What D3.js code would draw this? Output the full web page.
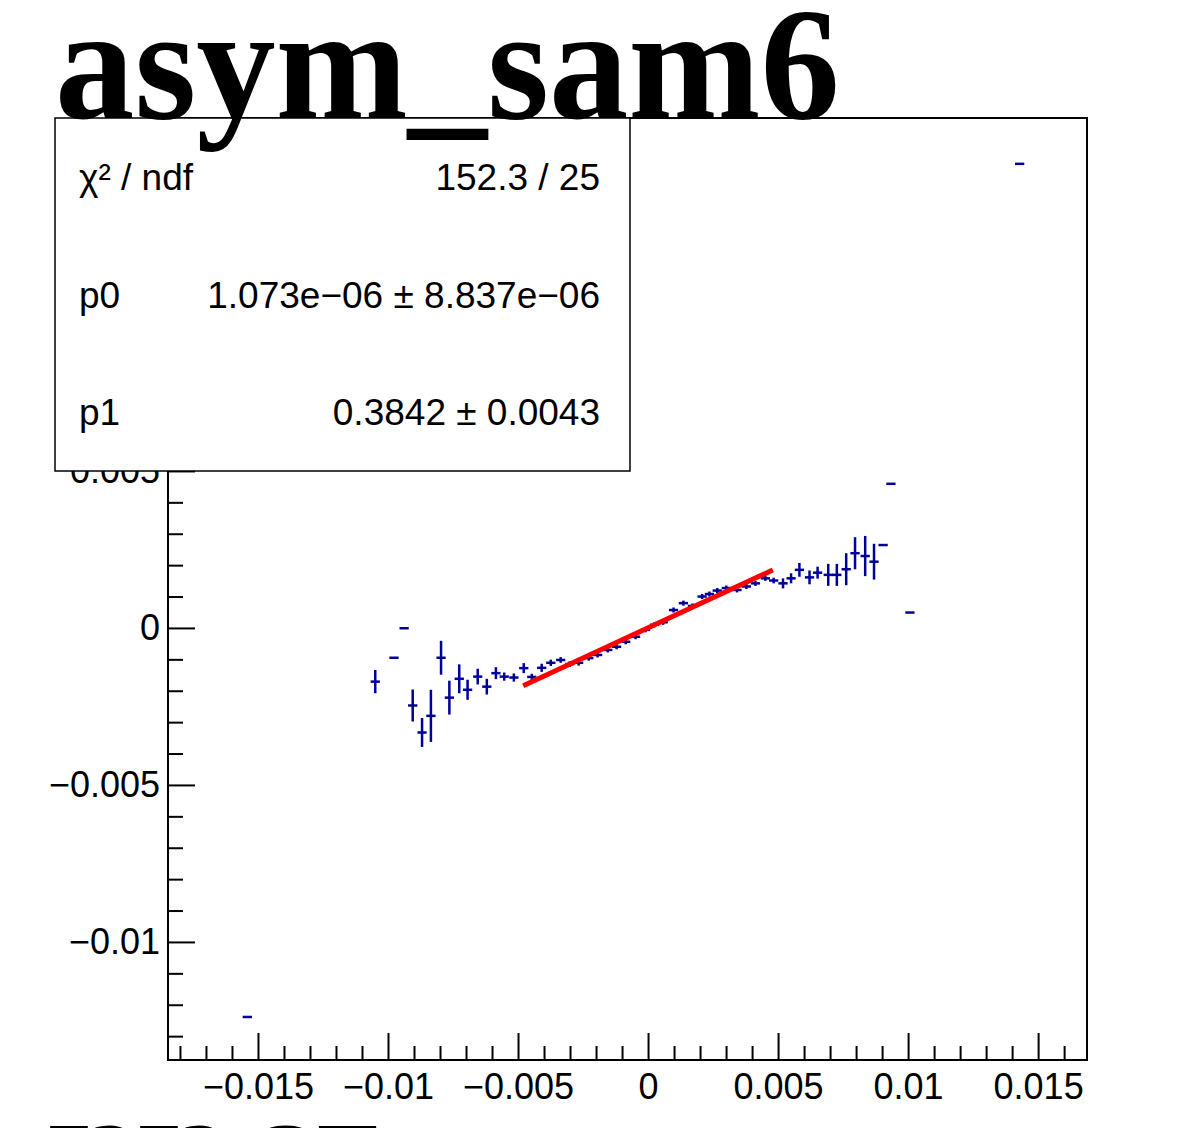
<!DOCTYPE html>
<html>
<head>
<meta charset="utf-8">
<script src="https://cdn.jsdelivr.net/npm/d3@7/dist/d3.min.js"></script>
<style>
  html, body { margin: 0; padding: 0; background: #ffffff; overflow: hidden; }
  svg { display: block; }
</style>
</head>
<body>
<svg id="chart" width="1199" height="1128"></svg>
<script>
// ---------------- data ----------------
const title = "asym_sam6";
const bottomText = "7373 GT";

// bin centres (x) of the profile points
const xValues = [
  -0.01541, -0.01049, -0.00977, -0.00938, -0.00905, -0.00869, -0.00835, -0.00796,
  -0.00764, -0.00726, -0.00694, -0.00655, -0.00620, -0.00585, -0.00553, -0.00516,
  -0.00478, -0.00447, -0.00409, -0.00374, -0.00336, -0.00301, -0.00267, -0.00228,
  -0.00194, -0.00155, -0.00121, -0.00086, -0.00048, -0.00010, 0.00025, 0.00058,
  0.00098, 0.00136, 0.00171, 0.00208, 0.00236, 0.00266, 0.00301, 0.00342,
  0.00378, 0.00413, 0.00451, 0.00483, 0.00519, 0.00550, 0.00582, 0.00621,
  0.00652, 0.00693, 0.00726, 0.00762, 0.00796, 0.00835, 0.00869, 0.00904,
  0.00934, 0.01007, 0.01429
];
// profile means (y)
const yValues = [
  -0.01239, -0.00171, -0.00095, -0.00001, -0.00247, -0.00333, -0.00280, -0.00095,
  -0.00222, -0.00162, -0.00197, -0.00155, -0.00187, -0.00144, -0.00155, -0.00158,
  -0.00128, -0.00156, -0.00127, -0.00111, -0.00102, -0.00115, -0.00111, -0.00096,
  -0.00086, -0.00070, -0.00060, -0.00044, -0.00028, -0.00006, 0.00010, 0.00018,
  0.00057, 0.00079, 0.00070, 0.00100, 0.00108, 0.00119, 0.00127, 0.00121,
  0.00132, 0.00142, 0.00158, 0.00151, 0.00142, 0.00158, 0.00185, 0.00161,
  0.00176, 0.00169, 0.00169, 0.00187, 0.00238, 0.00229, 0.00211, 0.00264,
  0.00459, 0.00049, 0.01478
];
// errors on the means
const yErrors = [
  0.00000, 0.00037, 0.00002, 0.00002, 0.00051, 0.00046, 0.00083, 0.00054,
  0.00054, 0.00046, 0.00032, 0.00025, 0.00025, 0.00019, 0.00013, 0.00013,
  0.00016, 0.00010, 0.00013, 0.00010, 0.00009, 0.00009, 0.00009, 0.00008,
  0.00008, 0.00008, 0.00008, 0.00008, 0.00008, 0.00008, 0.00008, 0.00008,
  0.00008, 0.00008, 0.00008, 0.00008, 0.00008, 0.00008, 0.00008, 0.00008,
  0.00008, 0.00008, 0.00008, 0.00009, 0.00016, 0.00016, 0.00022, 0.00022,
  0.00019, 0.00035, 0.00035, 0.00051, 0.00051, 0.00064, 0.00057, 0.00000,
  0.00000, 0.00000, 0.00000
];
const binHalfWidth = 0.000178;

// linear fit pol1: p0 + p1 * x
const fitParams = [1.073e-06, 0.3842];
const fitRange = [-0.0048, 0.0048];

// axes
const xDomain = [-0.01846, 0.01688];
const yDomain = [-0.01376, 0.01624];
const xMajorTicks = [-0.015, -0.01, -0.005, 0, 0.005, 0.01, 0.015];
const xTickLabels = ["\u22120.015", "\u22120.01", "\u22120.005", "0", "0.005", "0.01", "0.015"];
const yMajorTicks = [-0.01, -0.005, 0, 0.005];
const yTickLabels = ["\u22120.01", "\u22120.005", "0", "0.005"];

// stats box
const statsLabels = ["\u03C7\u00B2 / ndf", "p0", "p1"];
const statsValues = ["152.3 / 25", "1.073e\u221206 \u00B1 8.837e\u221206", "0.3842 \u00B1 0.0043"];

// ---------------- drawing ----------------
const svg = d3.select("#chart");
const frame = { left: 168, right: 1087, top: 118, bottom: 1060 };

const x = d3.scaleLinear().domain(xDomain).range([frame.left, frame.right]);
const y = d3.scaleLinear().domain(yDomain).range([frame.bottom, frame.top]);

const sansFont = "'Liberation Sans', Arial, Helvetica, sans-serif";

// minor ticks every 0.001
const xMinor = d3.range(Math.ceil(xDomain[0] * 1000), Math.floor(xDomain[1] * 1000) + 1)
  .map(v => v / 1000).filter(v => Math.abs(Math.round(v * 200) - v * 200) > 1e-6);
const yMinor = d3.range(Math.ceil(yDomain[0] * 1000), Math.floor(yDomain[1] * 1000) + 1)
  .map(v => v / 1000).filter(v => Math.abs(Math.round(v * 200) - v * 200) > 1e-6);

// x axis major
const gx = svg.append("g").attr("transform", `translate(0,${frame.bottom})`)
  .call(d3.axisBottom(x).tickValues(xMajorTicks).tickSize(-27).tickPadding(13)
    .tickFormat((d, i) => xTickLabels[i]));
gx.select(".domain").remove();
gx.selectAll("line").attr("stroke", "#000").attr("stroke-width", 2);
gx.selectAll("text").attr("font-family", sansFont).attr("font-size", 36).attr("fill", "#000");

const gxm = svg.append("g").attr("transform", `translate(0,${frame.bottom})`)
  .call(d3.axisBottom(x).tickValues(xMinor).tickSize(-14).tickFormat(""));
gxm.select(".domain").remove();
gxm.selectAll("line").attr("stroke", "#000").attr("stroke-width", 2);

// y axis major
const gy = svg.append("g").attr("transform", `translate(${frame.left},0)`)
  .call(d3.axisLeft(y).tickValues(yMajorTicks).tickSize(-27).tickPadding(8)
    .tickFormat((d, i) => yTickLabels[i]));
gy.select(".domain").remove();
gy.selectAll("line").attr("stroke", "#000").attr("stroke-width", 2);
gy.selectAll("text").attr("font-family", sansFont).attr("font-size", 36).attr("fill", "#000");

const gym = svg.append("g").attr("transform", `translate(${frame.left},0)`)
  .call(d3.axisLeft(y).tickValues(yMinor).tickSize(-15).tickFormat(""));
gym.select(".domain").remove();
gym.selectAll("line").attr("stroke", "#000").attr("stroke-width", 2);

// frame
svg.append("rect")
  .attr("x", frame.left).attr("y", frame.top)
  .attr("width", frame.right - frame.left).attr("height", frame.bottom - frame.top)
  .attr("fill", "none").attr("stroke", "#000").attr("stroke-width", 2);

// data points with error bars
const pts = xValues.map((xv, i) => ({ x: xv, y: yValues[i], e: yErrors[i] }));
const gp = svg.append("g").attr("stroke", "#000099").attr("stroke-width", 2.5);
gp.selectAll("line.h").data(pts).join("line").attr("class", "h")
  .attr("x1", d => x(d.x - binHalfWidth)).attr("x2", d => x(d.x + binHalfWidth))
  .attr("y1", d => y(d.y)).attr("y2", d => y(d.y));
gp.selectAll("line.v").data(pts.filter(d => d.e > 0.00002)).join("line").attr("class", "v")
  .attr("x1", d => x(d.x)).attr("x2", d => x(d.x))
  .attr("y1", d => y(d.y - d.e)).attr("y2", d => y(d.y + d.e));

// fit line
const fitLine = d3.line().x(d => x(d)).y(d => y(fitParams[0] + fitParams[1] * d));
svg.append("path").datum(fitRange)
  .attr("d", fitLine).attr("fill", "none").attr("stroke", "#ff0000").attr("stroke-width", 5);

// stats box
const box = { x: 55, y: 118, w: 575, h: 353 };
svg.append("rect").attr("x", box.x).attr("y", box.y).attr("width", box.w).attr("height", box.h)
  .attr("fill", "#fff").attr("stroke", "#000").attr("stroke-width", 1.5);
const rowH = box.h / statsLabels.length;
svg.append("g").selectAll("text").data(statsLabels).join("text")
  .attr("x", box.x + 24).attr("y", (d, i) => box.y + rowH * (i + 0.5) + 13)
  .attr("font-family", sansFont).attr("font-size", 37).attr("fill", "#000")
  .text(d => d);
svg.append("g").selectAll("text").data(statsValues).join("text")
  .attr("x", box.x + box.w - 30).attr("y", (d, i) => box.y + rowH * (i + 0.5) + 13)
  .attr("text-anchor", "end")
  .attr("font-family", sansFont).attr("font-size", 37).attr("fill", "#000")
  .text(d => d);

// title
svg.append("text").attr("x", 55).attr("y", 118)
  .attr("font-family", "'Liberation Serif', 'Times New Roman', serif")
  .attr("font-weight", "bold").attr("font-size", 160)
  .attr("textLength", 785).attr("lengthAdjust", "spacingAndGlyphs")
  .attr("fill", "#000").text(title);

// partially visible bottom text (mostly below the picture edge)
svg.append("text").attr("x", 45).attr("y", 1186)
  .attr("font-family", "'Liberation Serif', 'Times New Roman', serif")
  .attr("font-weight", "bold").attr("font-size", 90)
  .attr("fill", "#000").text(bottomText);
</script>
</body>
</html>
